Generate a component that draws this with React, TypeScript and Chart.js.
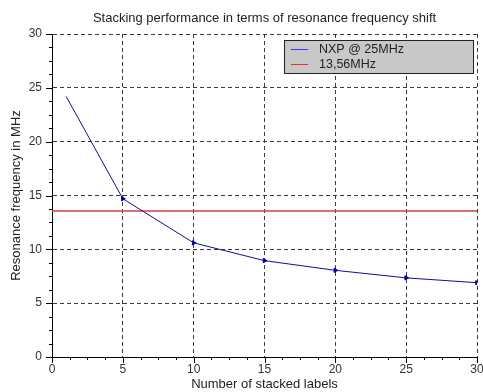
import React, { useEffect, useRef } from 'react';
import { Chart, registerables } from 'chart.js';

Chart.register(...registerables);

// Measured resonance frequency versus number of stacked labels
const stackCounts = [1, 5, 10, 15, 20, 25, 30];
const resonanceMHz = [24.2, 14.7, 10.6, 8.95, 8.05, 7.35, 6.9];

// Horizontal reference at the 13.56 MHz operating frequency
const referenceSpan = [0, 30];
const referenceMHz = [13.56, 13.56];

const seriesLabels = ['NXP @ 25MHz', '13,56MHz'];
const xTickValues = [0, 5, 10, 15, 20, 25, 30];
const yTickValues = [0, 5, 10, 15, 20, 25, 30];

const chartTitle = 'Stacking performance in terms of resonance frequency shift';
const xTitle = 'Number of stacked labels';
const yTitle = 'Resonance frequency in MHz';

const FONT = "'Liberation Sans', Arial, sans-serif";
const BLUE = '#10108c';
const RED = '#cc4545';

// Solid tick marks (major every 5, minor every 1.25) along the left and bottom axes
const axisMarks = {
  id: 'axisMarks',
  afterDraw(chart: any) {
    const { ctx, chartArea, scales } = chart;
    const x = scales.x;
    const y = scales.y;
    ctx.save();
    ctx.strokeStyle = '#000';
    ctx.lineWidth = 1;
    ctx.beginPath();
    const minorStep = 1.25;
    for (let i = 0; i <= 24; i++) {
      const v = i * minorStep;
      const major = i % 4 === 0;
      const len = major ? 6 : 3;
      const px = Math.round(x.getPixelForValue(v)) + 0.5;
      ctx.moveTo(px, chartArea.bottom);
      ctx.lineTo(px, chartArea.bottom + len);
      const py = Math.round(y.getPixelForValue(v)) + 0.5;
      ctx.moveTo(chartArea.left - len, py);
      ctx.lineTo(chartArea.left, py);
    }
    ctx.stroke();
    ctx.restore();
  },
};

// Grey legend box in the upper right corner of the plot
const boxLegend = {
  id: 'boxLegend',
  afterDraw(chart: any) {
    const { ctx, chartArea } = chart;
    const w = 189;
    const h = 33;
    const left = chartArea.right - 4 - w;
    const top = chartArea.top + 6;
    ctx.save();
    ctx.fillStyle = '#c8c8c8';
    ctx.fillRect(left + 0.5, top + 0.5, w, h);
    ctx.strokeStyle = '#222';
    ctx.lineWidth = 1;
    ctx.strokeRect(left + 0.5, top + 0.5, w, h);
    ctx.font = `12.5px ${FONT}`;
    ctx.textBaseline = 'middle';
    ctx.textAlign = 'left';
    chart.data.datasets.forEach((ds: any, i: number) => {
      const cy = Math.round(top + 9 + i * 15) + 0.5;
      ctx.strokeStyle = i === 0 ? '#3838f0' : '#e83030';
      ctx.beginPath();
      ctx.moveTo(left + 7, cy);
      ctx.lineTo(left + 24, cy);
      ctx.stroke();
      ctx.fillStyle = '#222';
      ctx.fillText(ds.label, left + 35, cy);
    });
    ctx.restore();
  },
};

export default function App() {
  const canvasRef = useRef<HTMLCanvasElement | null>(null);

  useEffect(() => {
    const canvas = canvasRef.current;
    if (!canvas) return;
    const gridStyle = { color: '#3a3a3a', lineWidth: 1, drawTicks: false };
    const borderStyle = { display: true, color: '#000', width: 1, dash: [4, 3] };
    const tickFont = { family: FONT, size: 12 };
    const titleFont = { family: FONT, size: 13, weight: 'normal' };

    const chart = new Chart(canvas, {
      type: 'line',
      data: {
        datasets: [
          {
            label: seriesLabels[0],
            data: stackCounts.map((n, i) => ({ x: n, y: resonanceMHz[i] })),
            borderColor: BLUE,
            borderWidth: 1,
            backgroundColor: '#0000b0',
            pointBackgroundColor: '#0000b0',
            pointBorderColor: '#0000b0',
            pointBorderWidth: 1,
            pointStyle: 'triangle',
            pointRotation: 90,
            pointRadius: stackCounts.map((_, i) => (i === 0 ? 0 : 2.5)),
            tension: 0,
            order: 0,
          },
          {
            label: seriesLabels[1],
            data: referenceSpan.map((n, i) => ({ x: n, y: referenceMHz[i] })),
            borderColor: RED,
            borderWidth: 1.6,
            pointRadius: 0,
            order: 1,
          },
        ],
      },
      options: {
        responsive: false,
        animation: false,
        events: [],
        layout: { padding: { left: 0, right: 6, top: 0, bottom: 0 } },
        plugins: {
          legend: { display: false },
          tooltip: { enabled: false },
          title: {
            display: true,
            text: chartTitle,
            fullSize: false,
            color: '#222',
            font: titleFont,
            padding: { top: 10.2, bottom: 8.2 },
          },
        },
        scales: {
          x: {
            type: 'linear',
            min: 0,
            max: 30,
            afterBuildTicks: (scale: any) => {
              scale.ticks = xTickValues.map((v) => ({ value: v }));
            },
            afterFit: (scale: any) => {
              scale.height = 35;
              scale.paddingLeft = 0;
              scale.paddingRight = 0;
            },
            grid: gridStyle,
            border: borderStyle,
            ticks: { color: '#333', font: tickFont, padding: 5, maxRotation: 0, autoSkip: false },
            title: {
              display: true,
              text: xTitle,
              color: '#222',
              font: titleFont,
              padding: { top: 0, bottom: 0 },
            },
          },
          y: {
            type: 'linear',
            min: 0,
            max: 30,
            afterBuildTicks: (scale: any) => {
              scale.ticks = yTickValues.map((v) => ({ value: v }));
            },
            afterFit: (scale: any) => {
              scale.width = 52;
              scale.paddingTop = 0;
              scale.paddingBottom = 0;
            },
            grid: gridStyle,
            border: borderStyle,
            ticks: { color: '#333', font: tickFont, padding: 10 },
            title: {
              display: true,
              text: yTitle,
              color: '#222',
              font: titleFont,
              padding: { top: 9, bottom: 0 },
            },
          },
        },
      },
      plugins: [axisMarks, boxLegend],
    } as any);

    return () => chart.destroy();
  }, []);

  return (
    <div style={{ position: 'absolute', left: 0, top: 0, width: 483, height: 392, background: '#fff' }}>
      <canvas ref={canvasRef} width={483} height={392} style={{ display: 'block' }} />
    </div>
  );
}
